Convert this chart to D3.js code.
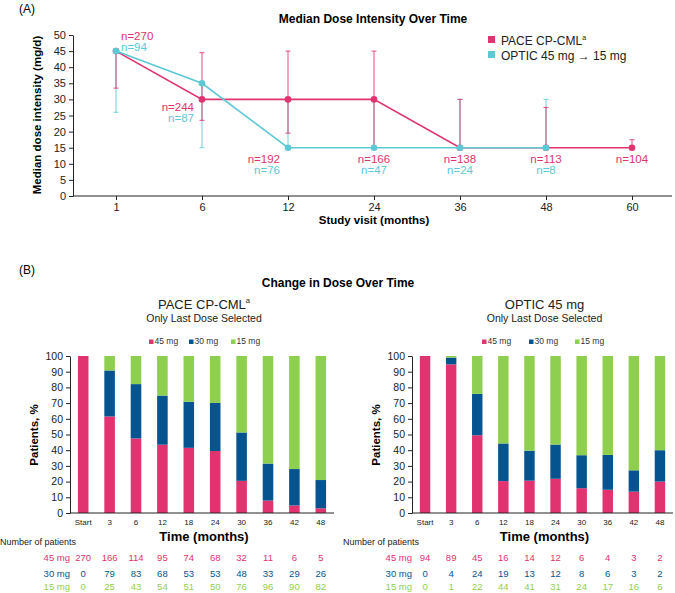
<!DOCTYPE html>
<html><head><meta charset="utf-8">
<script src="https://cdn.jsdelivr.net/npm/d3@7"></script>
<style>
body{margin:0;background:#fff;}
svg{font-family:Arial,"Liberation Sans",Helvetica,sans-serif;}
</style></head>
<body><svg id="c" width="675" height="593"></svg>
<script>
// ---- Panel A data ----
const visits = ["1","6","12","24","36","48","60"];
const paceMedian = [45,30,30,30,15,15,15];
const paceLow    = [33.5,23.5,19.5,15,15,15,15];
const paceHigh   = [45,44.5,45,45,30,27.5,17.5];
const paceN      = [270,244,192,166,138,113,104];
const opticVisits = ["1","6","12","24","36","48"];
const opticMedian = [45,35,15,15,15,15];
const opticLow    = [26,15,15,15,15,15];
const opticHigh   = [45,35,30,30,30,30];
const opticN      = [94,87,76,47,24,8];
const yTicksA = [0,5,10,15,20,25,30,35,40,45,50];

// ---- Panel B data ----
const timeLabels = ["Start","3","6","12","18","24","30","36","42","48"];
const doseLevels = ["45 mg","30 mg","15 mg"];
// bar heights (% of patients)
const pacePct45 = [100,61.5,47.5,43.5,41.5,39.5,20.5,7.9,4.8,3];
const pacePct30 = [0,29.3,34.6,31.3,29.4,30.6,30.8,23.6,23.2,18];
const pacePct15 = [0,9.2,17.9,25.2,29.1,29.9,48.7,68.5,72,79];
const opticPct45 = [100,94.7,49.5,20.3,20.6,21.8,15.8,14.8,13.6,20];
const opticPct30 = [0,4.3,26.4,24,19.1,21.8,21,22.2,13.6,20];
const opticPct15 = [0,1,24.1,55.7,60.3,56.4,63.2,63,72.8,60];
// number of patients table
const pace45 = [270,166,114,95,74,68,32,11,6,5];
const pace30 = [0,79,83,68,53,53,48,33,29,26];
const pace15 = [0,25,43,54,51,50,76,96,90,82];
const optic45 = [94,89,45,16,14,12,6,4,3,2];
const optic30 = [0,4,24,19,13,12,8,6,3,2];
const optic15 = [0,1,22,44,41,31,24,17,16,6];
const yTicksB = [0,10,20,30,40,50,60,70,80,90,100];

const PINK="#e0336f", TEAL="#5ec8d5", BLUE="#06548f", GREEN="#8fcf4f";
const doseColors=[PINK,BLUE,GREEN];
const svg=d3.select("#c");

// ================= Panel A =================
svg.append("text").attr("x",27).attr("y",13).attr("font-size",12).attr("text-anchor","middle").text("(A)");
svg.append("text").attr("x",373).attr("y",23).attr("font-size",12).attr("font-weight","bold").attr("text-anchor","middle").text("Median Dose Intensity Over Time");

const xA=d3.scaleBand().domain(visits).range([73,675]).padding(0);
const cx=v=>xA(v)+xA.bandwidth()/2;
const yA=d3.scaleLinear().domain([0,50]).range([196,35]);

const gA=svg.append("g");
gA.append("g").attr("transform","translate(73,0)")
  .call(d3.axisLeft(yA).tickValues(yTicksA).tickSize(4).tickSizeOuter(0))
  .call(g=>{g.select(".domain").attr("stroke","#222");g.selectAll("line").attr("stroke","#222");
    g.selectAll("text").attr("font-size",11).attr("fill","#222").attr("font-family","Arial,'Liberation Sans',sans-serif");});
const xAxisA=d3.axisBottom(d3.scalePoint().domain(visits).range([cx("1"),cx("60")])).tickSize(4).tickSizeOuter(0);
gA.append("line").attr("x1",73).attr("x2",672).attr("y1",196).attr("y2",196).attr("stroke","#222");
gA.append("g").attr("transform","translate(0,196)").call(xAxisA)
  .call(g=>{g.select(".domain").remove();g.selectAll("line").attr("stroke","#222");
    g.selectAll("text").attr("font-size",11).attr("fill","#222").attr("font-family","Arial,'Liberation Sans',sans-serif");});
gA.append("text").attr("transform","translate(41,115) rotate(-90)").attr("text-anchor","middle")
  .attr("font-size",11.5).attr("font-weight","bold").text("Median dose intensity (mg/d)");
gA.append("text").attr("x",374).attr("y",224).attr("text-anchor","middle").attr("font-size",11.5).attr("font-weight","bold").text("Study visit (months)");

function errBars(vis,med,lo,hi,color){
  const g=gA.append("g").attr("stroke",color).attr("stroke-width",1.1).attr("opacity",0.8);
  vis.forEach((v,i)=>{
    const x=cx(v);
    g.append("line").attr("x1",x).attr("x2",x).attr("y1",yA(lo[i])).attr("y2",yA(hi[i]));
    if(lo[i]<med[i]) g.append("line").attr("x1",x-2.5).attr("x2",x+2.5).attr("y1",yA(lo[i])).attr("y2",yA(lo[i]));
    if(hi[i]>med[i]) g.append("line").attr("x1",x-2.5).attr("x2",x+2.5).attr("y1",yA(hi[i])).attr("y2",yA(hi[i]));
  });
}
function series(vis,med,color){
  const line=d3.line().x((d,i)=>cx(vis[i])).y(d=>yA(d));
  gA.append("path").datum(med).attr("d",line).attr("fill","none").attr("stroke",color).attr("stroke-width",1.6);
  gA.selectAll(null).data(med).enter().append("circle").attr("cx",(d,i)=>cx(vis[i])).attr("cy",d=>yA(d)).attr("r",3.3).attr("fill",color);
}
errBars(opticVisits,opticMedian,opticLow,opticHigh,TEAL);
errBars(visits,paceMedian,paceLow,paceHigh,PINK);
series(visits,paceMedian,PINK);
series(opticVisits,opticMedian,TEAL);

// n labels
const nFont=11.5;
function nLab(x,y,txt,color,anchor){gA.append("text").attr("x",x).attr("y",y).attr("font-size",nFont).attr("fill",color).attr("text-anchor",anchor).text(txt);}
nLab(cx("1")+5,39.5,"n="+paceN[0],PINK,"start");
nLab(cx("1")+5,51,"n="+opticN[0],TEAL,"start");
nLab(cx("6")-8,110.5,"n="+paceN[1],PINK,"end");
nLab(cx("6")-8,122,"n="+opticN[1],TEAL,"end");
nLab(cx("12")-8,162.5,"n="+paceN[2],PINK,"end");
nLab(cx("12")-8,174,"n="+opticN[2],TEAL,"end");
for(let i=3;i<visits.length;i++){
  nLab(cx(visits[i]),162.5,"n="+paceN[i],PINK,"middle");
  if(i<opticVisits.length) nLab(cx(visits[i]),174,"n="+opticN[i],TEAL,"middle");
}
// legend A
const lgA=svg.append("g");
lgA.append("rect").attr("x",488).attr("y",36).attr("width",7).attr("height",7).attr("fill",PINK);
const t1=lgA.append("text").attr("x",501).attr("y",45).attr("font-size",12).attr("fill","#222");
t1.append("tspan").text("PACE CP-CML");
t1.append("tspan").attr("font-size",7).attr("dy",-5).text("a");
lgA.append("rect").attr("x",488).attr("y",51).attr("width",7).attr("height",7).attr("fill",TEAL);
lgA.append("text").attr("x",501).attr("y",60).attr("font-size",12).attr("fill","#222").text("OPTIC 45 mg \u2192 15 mg");

// ================= Panel B =================
svg.append("text").attr("x",27).attr("y",274).attr("font-size",12).attr("text-anchor","middle").text("(B)");
svg.append("text").attr("x",338).attr("y",287).attr("font-size",12).attr("font-weight","bold").attr("text-anchor","middle").text("Change in Dose Over Time");

function stackPanel(opts){
  const {x0,x1,title,sup,p45,p30,p15,c45,c30,c15,legX,tableLabelX,npX}=opts;
  const g=svg.append("g");
  const xB=d3.scaleBand().domain(timeLabels).range([x0,x1]).paddingInner(0.6).paddingOuter(0.3);
  const yB=d3.scaleLinear().domain([0,100]).range([513,356]);
  const rows=timeLabels.map((t,i)=>({t,"45 mg":p45[i],"30 mg":p30[i],"15 mg":p15[i]}));
  const stacked=d3.stack().keys(doseLevels)(rows);
  const mid=(x0+x1)/2+2;
  const tt=g.append("text").attr("x",mid).attr("y",309).attr("text-anchor","middle").attr("font-size",13).attr("fill","#222");
  tt.append("tspan").text(title);
  if(sup) tt.append("tspan").attr("font-size",7.5).attr("dy",-6).text(sup);
  g.append("text").attr("x",mid).attr("y",322).attr("text-anchor","middle").attr("font-size",10.5).attr("fill","#222").text("Only Last Dose Selected");
  // legend
  doseLevels.forEach((k,i)=>{
    const lx=legX[i];
    g.append("rect").attr("x",lx).attr("y",339.5).attr("width",4.5).attr("height",4.5).attr("fill",doseColors[i]);
    g.append("text").attr("x",lx+5.5).attr("y",344).attr("font-size",8.5).attr("fill","#333").text(k);
  });
  g.selectAll(null).data(stacked).enter().append("g").attr("fill",(d,i)=>doseColors[i])
    .selectAll("rect").data(d=>d).enter().append("rect")
    .attr("x",d=>xB(d.data.t)).attr("width",xB.bandwidth())
    .attr("y",d=>yB(Math.min(100,d[1]))).attr("height",d=>Math.max(0,yB(d[0])-yB(Math.min(100,d[1]))));
  g.append("g").attr("transform",`translate(${x0},0)`)
    .call(d3.axisLeft(yB).tickValues(yTicksB).tickSize(4).tickSizeOuter(0))
    .call(a=>{a.select(".domain").attr("stroke","#222");a.selectAll("line").attr("stroke","#222");
      a.selectAll("text").attr("font-size",10.5).attr("fill","#222").attr("font-family","Arial,'Liberation Sans',sans-serif");});
  g.append("g").attr("transform","translate(0,513)")
    .call(d3.axisBottom(xB).tickSize(0).tickPadding(6))
    .call(a=>{a.select(".domain").attr("d",`M${x0},0H${x1}`).attr("stroke","#222");
      a.selectAll("text").attr("font-size",8).attr("fill","#222").attr("font-family","Arial,'Liberation Sans',sans-serif");});
  g.append("text").attr("transform",`translate(${x0-32},435) rotate(-90)`).attr("text-anchor","middle")
    .attr("font-size",11.5).attr("font-weight","bold").text("Patients, %");
  g.append("text").attr("x",mid).attr("y",541).attr("text-anchor","middle").attr("font-size",13).attr("font-weight","bold").text("Time (months)");
  // table
  g.append("text").attr("x",npX).attr("y",545).attr("font-size",9).attr("fill","#222").text("Number of patients");
  const tableRows=[c45,c30,c15];
  const rowY=[561,577,590];
  tableRows.forEach((arr,r)=>{
    g.append("text").attr("x",tableLabelX).attr("y",rowY[r]).attr("text-anchor","end").attr("font-size",9.5).attr("fill",doseColors[r]).text(doseLevels[r]);
    arr.forEach((v,i)=>{
      g.append("text").attr("x",xB(timeLabels[i])+xB.bandwidth()/2).attr("y",rowY[r]).attr("text-anchor","middle")
        .attr("font-size",9.5).attr("fill",doseColors[r]).text(v);
    });
  });
}
stackPanel({x0:70,x1:334,title:"PACE CP-CML",sup:"a",p45:pacePct45,p30:pacePct30,p15:pacePct15,c45:pace45,c30:pace30,c15:pace15,legX:[149,189,231],tableLabelX:70,npX:0});
stackPanel({x0:412,x1:673,title:"OPTIC 45 mg",sup:null,p45:opticPct45,p30:opticPct30,p15:opticPct15,c45:optic45,c30:optic30,c15:optic15,legX:[482,529,575],tableLabelX:412,npX:343});
</script></body></html>
